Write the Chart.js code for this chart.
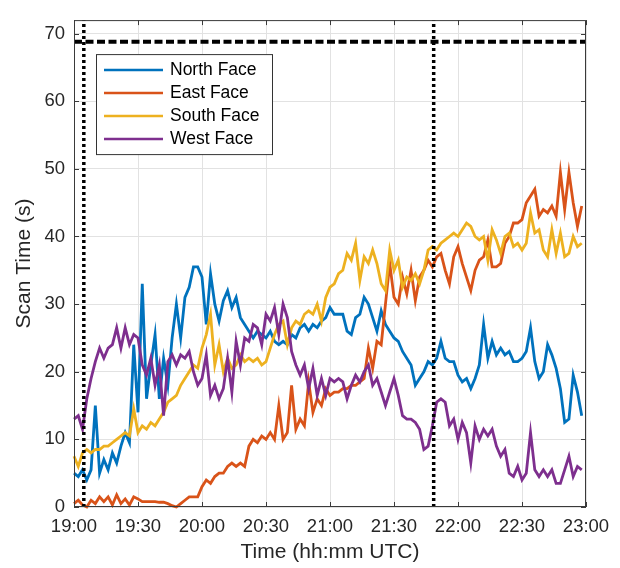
<!DOCTYPE html>
<html>
<head>
<meta charset="utf-8">
<title>Scan time by radar face</title>
<script src="https://cdn.jsdelivr.net/npm/chart.js@4/dist/chart.umd.min.js"></script>
<style>
  html, body { margin: 0; padding: 0; background: #fff; }
</style>
</head>
<body>
<canvas id="scanChart" width="620" height="568"></canvas>
<script>
// minutes after 19:00 UTC
const minutes = [
  0, 2, 4, 6, 8, 10, 12, 14, 16, 18, 20, 22, 24, 26, 28, 30, 32, 34, 36, 38,
  40, 42, 44, 46, 48, 50, 52, 54, 56, 58, 60, 62, 64, 66, 68, 70, 72, 74, 76, 78,
  80, 82, 84, 86, 88, 90, 92, 94, 96, 98, 100, 102, 104, 106, 108, 110, 112, 114, 116, 118,
  120, 122, 124, 126, 128, 130, 132, 134, 136, 138, 140, 142, 144, 146, 148, 150, 152, 154, 156, 158,
  160, 162, 164, 166, 168, 170, 172, 174, 176, 178, 180, 182, 184, 186, 188, 190, 192, 194, 196, 198,
  200, 202, 204, 206, 208, 210, 212, 214, 216, 218, 220, 222, 224, 226, 228, 230, 232, 234, 236, 238
];

// scan time (s) per face
const northFace = [
  5, 4.5, 5.5, 4, 5.5, 15, 5, 7, 5.5, 8, 6.5, 9, 11, 9.5, 24, 14, 33, 16, 21, 25.5,
  16, 22, 18, 25, 30, 25, 31, 32.5, 35.5, 35.5, 34, 27, 34.5, 30, 27.5, 30.5, 32, 29.5, 31, 28,
  27, 26, 25, 26, 25.5, 25, 26, 24.5, 24, 24.5, 24, 25.5, 25, 26.5, 27, 26, 27, 26.5, 27.5, 28,
  29.5, 28.5, 28.5, 28.5, 26, 25.5, 28, 28.5, 31, 30, 28, 26, 29, 27, 26, 25, 24.5, 23, 22, 21,
  18, 19, 20, 21.5, 21, 22, 24.5, 22, 21.5, 21.5, 19.5, 18.5, 19, 17.5, 19, 21, 27, 22, 24.5, 22.5,
  23.5, 22.5, 23, 21.5, 21.5, 22, 23, 26.5, 21.5, 19, 20, 24, 22.5, 20.5, 17.5, 12.5, 13, 19.5, 17, 13.5
];
const eastFace = [
  0.5, 1, 0.3, 0, 1, 0.5, 1.5, 0.8, 1.5, 0.3, 1.8, 0.5, 1.2, 0.3, 1.5, 1.2, 0.8, 0.8, 0.8, 0.8,
  0.7, 0.7, 0.5, 0.2, 0, 0.5, 1, 1.5, 1.5, 1.5, 3, 4, 3.5, 4.5, 5, 5, 6, 6.5, 6, 6.5,
  6, 9, 10, 9.5, 10.5, 10, 11, 10, 15, 10, 11, 18, 11.5, 13, 12, 18.5, 14, 16, 15, 17.5,
  16.5, 17, 17, 17.5, 17.5, 18, 18, 18.5, 19, 23.5, 20.5, 24.5, 24, 30, 36, 31, 30, 34, 31.5, 35,
  30.5, 34, 35, 36.5, 35.5, 37, 37.5, 35, 33, 37, 38.5, 36, 34, 32, 35, 36.5, 37, 39.5, 35.5, 35.5,
  36, 39, 40, 42, 42, 42.5, 45, 46, 47, 43, 44, 43.5, 44.5, 43, 49.5, 44, 49.5, 45, 41.5, 44.5
];
const southFace = [
  7.5, 6, 8, 8.5, 8, 8.5, 8.5, 9, 9, 9.5, 10, 10.5, 11, 10.5, 14.5, 11, 12, 11.5, 12.5, 12,
  13, 14, 15.5, 16, 16.5, 18, 19, 20, 21, 20.5, 23.5, 25.5, 28.5, 21, 24, 20, 22, 20.5, 21, 22.5,
  21.5, 22, 21.5, 22, 21, 21.5, 23.5, 25.5, 27, 27.5, 24, 26.5, 27.5, 27, 28.5, 29, 28.5, 30, 27.5, 31,
  32.5, 33, 34.5, 35, 37.5, 36.5, 39, 33.5, 37, 36, 38, 36, 33, 32, 38, 35, 36.5, 32.5, 34, 33.5,
  34.5, 33, 35, 38, 38.5, 38, 39, 39.5, 40, 40.5, 40, 41, 42, 41.5, 40, 39.5, 40, 36.5, 41, 39.5,
  37.5, 40, 40.5, 38.5, 39, 38, 39, 43.5, 40.5, 41, 38, 37, 41, 37.5, 40.5, 37, 37.5, 40, 38.5, 39
];
const westFace = [
  13, 13.5, 11.5, 16, 19, 21.5, 23.5, 22, 23.5, 24, 26.5, 23.5, 26.5, 24, 25.5, 25, 21, 19.5, 22, 18,
  21, 13.5, 21.5, 22.5, 21, 22.5, 22, 23, 20, 18, 19, 22.5, 16.5, 18, 16, 17.5, 22, 17, 24.5, 21,
  25, 24.5, 27, 26.5, 24, 28.5, 27.5, 29.5, 25.5, 30, 28, 23, 21, 19.5, 21, 17.5, 20.5, 16.5, 19, 16.5,
  19, 18.5, 19, 18.5, 16, 18, 19.5, 18.5, 20, 21, 18, 19, 17, 15, 17, 19, 16.5, 13.5, 13, 13,
  12.5, 11.5, 8.5, 9, 12, 15.5, 16, 15.5, 12, 13, 10, 12.5, 11, 6.5, 12, 10, 11.5, 10.5, 11.5, 9,
  7.5, 8.5, 5, 4.5, 6, 4, 5, 11, 5.5, 4.5, 5.5, 4.5, 5.5, 3.5, 3.5, 5.5, 7.5, 4.5, 6, 5.5
];

const seriesNames = ['North Face', 'East Face', 'South Face', 'West Face'];
const seriesColors = ['#0072BD', '#D95319', '#EDB120', '#7E2F8E'];

const xTickMinutes = [0, 30, 60, 90, 120, 150, 180, 210, 240];
const xTickLabels = ['19:00', '19:30', '20:00', '20:30', '21:00', '21:30', '22:00', '22:30', '23:00'];
const yTicks = [0, 10, 20, 30, 40, 50, 60, 70];
const yMax = 72;

const markerTimes = [4.6, 168.6]; // dotted verticals
const limitLevel = 68.8;          // dashed horizontal

const FONT = '"Liberation Sans", Arial, Helvetica, sans-serif';
Chart.defaults.font.family = FONT;

// matlab-like box with inward ticks
const axesBox = {
  id: 'axesBox',
  afterDatasetsDraw(chart) {
    const { ctx, chartArea: a, scales: { x, y } } = chart;
    ctx.save();
    ctx.strokeStyle = '#3a3a3a';
    ctx.lineWidth = 1;
    ctx.strokeRect(a.left + 0.5, a.top + 0.5, a.right - a.left - 1, a.bottom - a.top - 1);
    ctx.beginPath();
    xTickMinutes.forEach(m => {
      const px = Math.round(x.getPixelForValue(m)) + 0.5;
      ctx.moveTo(px, a.bottom); ctx.lineTo(px, a.bottom - 5);
      ctx.moveTo(px, a.top); ctx.lineTo(px, a.top + 5);
    });
    yTicks.forEach(v => {
      const py = Math.round(y.getPixelForValue(v)) + 0.5;
      ctx.moveTo(a.left, py); ctx.lineTo(a.left + 5, py);
      ctx.moveTo(a.right, py); ctx.lineTo(a.right - 5, py);
    });
    ctx.stroke();
    ctx.restore();
  }
};

// legend box inside the axes, top left
const legendBox = {
  id: 'legendBox',
  afterDraw(chart) {
    const { ctx, chartArea: a } = chart;
    const x0 = a.left + 22, y0 = a.top + 34, w = 176, h = 100;
    ctx.save();
    ctx.fillStyle = '#fff';
    ctx.fillRect(x0, y0, w, h);
    ctx.strokeStyle = '#333';
    ctx.lineWidth = 1;
    ctx.strokeRect(x0 + 0.5, y0 + 0.5, w, h);
    ctx.font = '17.5px ' + FONT;
    ctx.textBaseline = 'middle';
    seriesNames.forEach((name, i) => {
      const ly = y0 + 16 + i * 23;
      ctx.strokeStyle = seriesColors[i];
      ctx.lineWidth = 2.5;
      ctx.beginPath();
      ctx.moveTo(x0 + 8, ly);
      ctx.lineTo(x0 + 67, ly);
      ctx.stroke();
      ctx.fillStyle = '#000';
      ctx.fillText(name, x0 + 74, ly);
    });
    ctx.restore();
  }
};

const faceSeries = [northFace, eastFace, southFace, westFace];
const datasets = faceSeries.map((vals, i) => ({
  label: seriesNames[i],
  data: vals.map((v, k) => ({ x: minutes[k], y: v })),
  borderColor: seriesColors[i],
  borderWidth: 2.8,
  pointRadius: 0,
  tension: 0,
  clip: 3,
  order: 5 - i
}));

markerTimes.forEach(t => {
  datasets.push({
    label: 'marker',
    data: [{ x: t, y: 0 }, { x: t, y: yMax }],
    borderColor: '#000',
    borderWidth: 3.5,
    borderDash: [3, 3],
    borderCapStyle: 'butt',
    pointRadius: 0,
    order: 0
  });
});
datasets.push({
  label: 'limit',
  data: [{ x: 0, y: limitLevel }, { x: 240, y: limitLevel }],
  borderColor: '#000',
  borderWidth: 4,
  borderDash: [8, 3.5],
  borderCapStyle: 'butt',
  pointRadius: 0,
  order: 0
});

new Chart(document.getElementById('scanChart'), {
  type: 'line',
  data: { datasets },
  plugins: [axesBox, legendBox],
  options: {
    responsive: false,
    devicePixelRatio: 1,
    animation: false,
    layout: { padding: { left: 0, right: 34, top: 9, bottom: 0 } },
    plugins: { legend: { display: false }, tooltip: { enabled: false } },
    scales: {
      x: {
        type: 'linear',
        min: 0,
        max: 240,
        afterBuildTicks: s => { s.ticks = xTickMinutes.map(v => ({ value: v })); },
        afterFit: s => { s.height = 61; },
        grid: { color: '#e2e2e2', drawTicks: false },
        border: { display: false },
        ticks: {
          padding: 9,
          color: '#262626',
          maxRotation: 0,
          autoSkip: false,
          font: { size: 18.5 },
          callback: v => xTickLabels[xTickMinutes.indexOf(v)]
        },
        title: {
          display: true,
          text: 'Time (hh:mm UTC)',
          color: '#262626',
          font: { size: 21 },
          padding: { top: 0, bottom: 3 }
        }
      },
      y: {
        min: 0,
        max: yMax,
        afterBuildTicks: s => { s.ticks = yTicks.map(v => ({ value: v })); },
        afterFit: s => { s.width = 74; },
        grid: { color: '#e2e2e2', drawTicks: false },
        border: { display: false },
        ticks: {
          padding: 9,
          color: '#262626',
          font: { size: 18.5 }
        },
        title: {
          display: true,
          text: 'Scan Time (s)',
          color: '#262626',
          font: { size: 21 },
          padding: { top: 12, bottom: 0 }
        }
      }
    }
  }
});
</script>
</body>
</html>
